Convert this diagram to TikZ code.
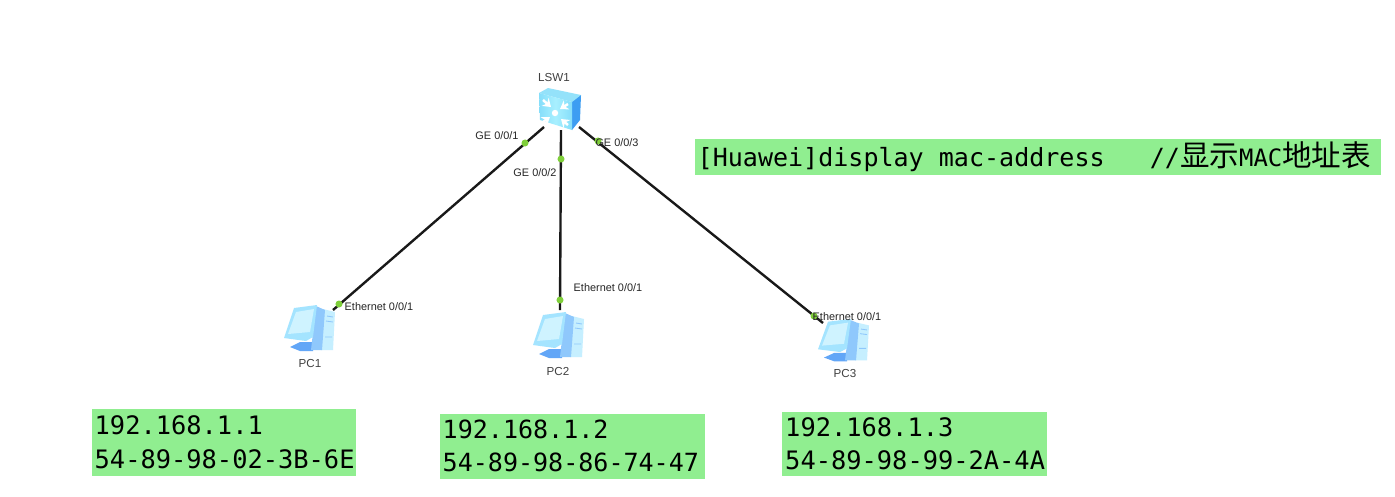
\documentclass[tikz,border=0pt]{standalone}
\usepackage{fontspec}
\setmainfont{Liberation Sans}
\setmonofont{DejaVu Sans Mono}
\newfontfamily\cjkfont{Noto Sans CJK SC}
\usetikzlibrary{arrows.meta}
\definecolor{boxgreen}{HTML}{90EE90}
\definecolor{portgreen}{HTML}{7FCF3A}
\definecolor{screenpale}{HTML}{CFF3FF}
\definecolor{framecyan}{HTML}{A4E4FF}
\definecolor{towerpale}{HTML}{C6EFFF}
\definecolor{towerblue}{HTML}{8FC8FC}
\definecolor{basedeep}{HTML}{62A6F7}
\definecolor{swfront}{HTML}{A8F0FF}
\definecolor{swedge}{HTML}{86DEFA}
\definecolor{swtop}{HTML}{94E2FA}
\definecolor{swside}{HTML}{3D9DF2}
% one character cell of the monospaced face, for the gaps in commands
\newcommand{\cellgap}{\hspace*{0.602em}}
\tikzset{
  x=0.01cm, y=-0.01cm,
  link/.style={line width=0.68pt, black!90},
  portdot/.style={circle, fill=portgreen, inner sep=0pt, minimum size=2pt},
  portlabel/.style={font=\fontsize{3.1}{3.7}\selectfont, text=black!85, inner sep=0pt},
  hostlabel/.style={font=\fontsize{3.3}{4}\selectfont, text=black!75, inner sep=0pt},
  anchorspot/.style={inner sep=0pt, minimum size=0pt},
  infobox/.style={fill=boxgreen, inner sep=0pt, align=left, anchor=north west,
    minimum width=2.65cm, text width=2.60cm,
    font=\ttfamily\fontsize{7.12}{9.1}\selectfont},
  pcicon/.pic={
    % stand
    \fill[basedeep] (-20,18) -- (-10,13) -- (4,13) -- (3,22) -- (-10,22) -- cycle;
    % tower: side and front
    \fill[towerpale] (13,-20) -- (25,-17) -- (23,21) -- (11,21) -- cycle;
    \fill[towerblue] (6,-23) -- (15,-19) -- (12,21) -- (1,21) -- cycle;
    \draw[towerblue, line width=0.25pt] (17,-13) -- (23,-12) (16,-8) -- (23,-7) (15,8) -- (22,8);
    % monitor
    \fill[framecyan] (-16,-21) -- (7,-24) -- (3,8) -- (-4,12) -- (-26,9) -- cycle;
    \fill[screenpale] (-14,-17) -- (4,-20) -- (0,3) -- (-22,5) -- cycle;
  },
  switchicon/.pic={
    \fill[swside] (14,-15) -- (23,-15) -- (22,10) -- (14,20) -- cycle;
    \fill[swtop] (-19,-17) -- (-10,-22) -- (23,-15) -- (14,-8) -- cycle;
    \shade[left color=swedge, right color=swedge, middle color=swfront]
      (-19,-17) -- (14,-8) -- (14,20) -- (-18,10) -- cycle;
    % arrows of the switching fabric
    \fill[white] (-3,3) circle (3.2);
    \draw[white, line width=0.7pt, -{Stealth[length=2.2pt,width=3pt]}] (-15,-10) -- (-7,-3);
    \draw[white, line width=0.7pt, -{Stealth[length=2.2pt,width=3pt]}] (10,-6) -- (2,-1);
    \draw[white, line width=0.7pt, -{Stealth[length=2.2pt,width=3pt]}] (-15,12) -- (-8,7);
    \draw[white, line width=0.7pt, -{Stealth[length=2.2pt,width=3pt]}] (10,15) -- (3,9);
  }
}
\begin{document}
\begin{tikzpicture}
\useasboundingbox (0,0) rectangle (1395,496);
\fill[white] (0,0) rectangle (1395,496);

% device icons
\pic at (558,110) {switchicon};
\pic at (310,329) {pcicon};
\pic at (559,336) {pcicon};
\pic[yscale=0.92] at (844,341) {pcicon};

% device names
\node[anchorspot] (sw) at (558,110) {};
\node[hostlabel] (swname) at (554,77) {LSW1};
\node[hostlabel] (pc1name) at (310,363) {PC1};
\node[hostlabel] (pc2name) at (558,371) {PC2};
\node[hostlabel] (pc3name) at (845,373) {PC3};

% link ends on the devices
\coordinate (swa) at (544,127);
\coordinate (swb) at (561,130);
\coordinate (swc) at (579,127);
\coordinate (pc1end) at (333,310);
\coordinate (pc2end) at (560,310);
\coordinate (pc3end) at (823,323);

% links
\draw[link] (swa) -- (pc1end);
\draw[link] (swb) -- (pc2end);
\draw[link] (swc) -- (pc3end);

% port markers
\node[portdot] (g1) at (525,143) {};
\node[portdot] (g2) at (561,159) {};
\node[portdot] (g3) at (598,141) {};
\node[portdot] (e1) at (339,304) {};
\node[portdot] (e2) at (560,300) {};
\node[portdot] (e3) at (814,316) {};

% port labels
\node[portlabel] (lg1) at (497,136) {GE 0/0/1};
\node[portlabel] (lg2) at (535,173) {GE 0/0/2};
\node[portlabel] (lg3) at (617,143) {GE 0/0/3};
\node[portlabel, anchor=west] (le1) at (344,307) {Ethernet 0/0/1};
\node[portlabel, anchor=west] (le2) at (573,288) {Ethernet 0/0/1};
\node[portlabel, anchor=west] (le3) at (812,317) {Ethernet 0/0/1};

% address and command notes
\node[infobox, minimum width=2.64cm, minimum height=0.67cm, text width=2.58cm,
      font=\ttfamily\fontsize{7.22}{9.1}\selectfont] (addr1) at (91,408)
  {\raisebox{0.3pt}{192.168.1.1}\\54-89-98-02-3B-6E};
\node[infobox, minimum height=0.65cm, text width=2.59cm] (addr2) at (439,413)
  {\raisebox{0.3pt}{192.168.1.2}\\54-89-98-86-74-47};
\node[infobox, minimum height=0.64cm, text width=2.58cm,
      font=\ttfamily\fontsize{7.22}{9.1}\selectfont] (addr3) at (781,411)
  {\raisebox{0.3pt}{192.168.1.3}\\54-89-98-99-2A-4A};
\node[infobox, minimum width=6.86cm, minimum height=0.36cm, text width=6.80cm,
      font=\ttfamily\fontsize{7.12}{9}\selectfont] (cmd) at (694,138)
  {[Huawei]display\cellgap mac-address\cellgap\cellgap\cellgap //{\cjkfont\fontsize{8.4}{9}\selectfont 显示}{\fontsize{6.8}{9}\selectfont MAC}{\cjkfont\fontsize{8.4}{9}\selectfont 地址表}};
\end{tikzpicture}
\end{document}
